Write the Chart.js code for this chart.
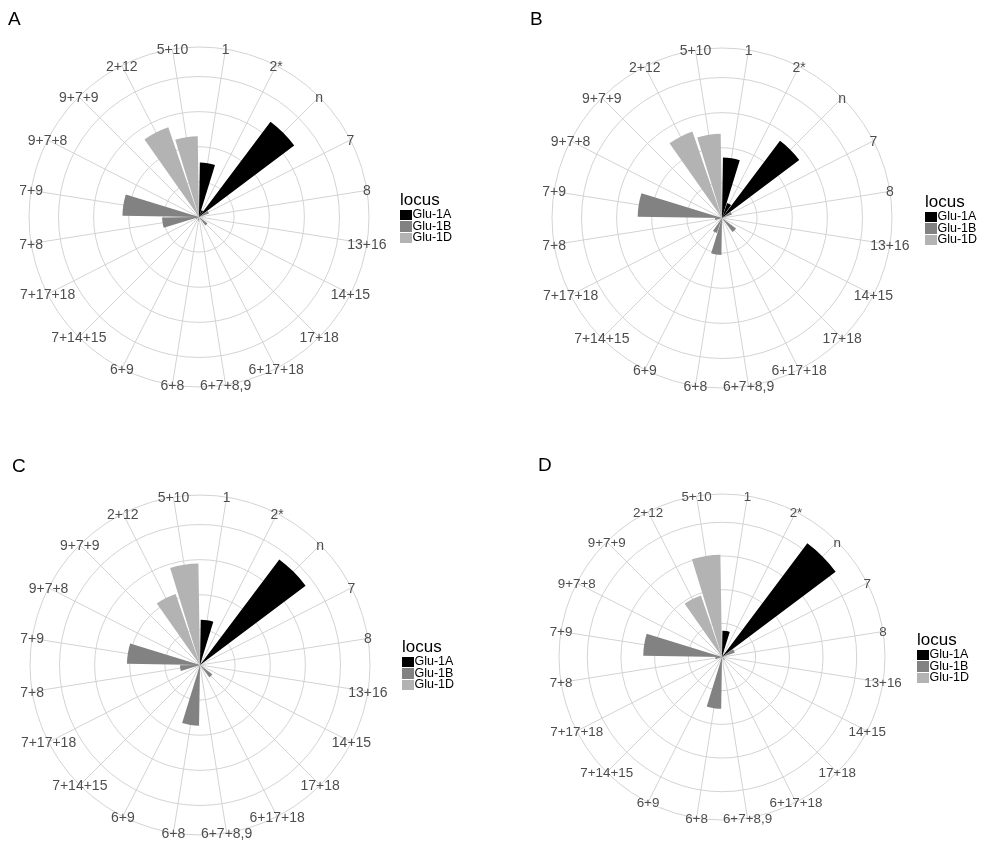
<!DOCTYPE html>
<html>
<head>
<meta charset="utf-8">
<title>Glu-1 alleles</title>
<script src="https://cdn.jsdelivr.net/npm/chart.js@4.4.0/dist/chart.umd.min.js"></script>
<style>
  body { margin: 0; background: #fff; font-family: "Liberation Sans", Arial, sans-serif; }
  #page { position: relative; width: 985px; height: 841px; overflow: hidden; }
  canvas { position: absolute; }
  .tag { position: absolute; font-size: 19px; line-height: 19px; color: #000; }
  .legend { position: absolute; color: #000; }
  .legend .title { font-size: 17px; line-height: 16px; margin-bottom: 1px; }
  .legend .row { display: flex; align-items: center; height: 11.5px; font-size: 12.5px; line-height: 11.5px; }
  .legend .key { width: 11.5px; height: 10.5px; margin-right: 1px; }
</style>
</head>
<body>
<div id="page">
  <canvas id="chart-a" width="490" height="420" style="left:0;top:0"></canvas>
  <canvas id="chart-b" width="495" height="420" style="left:490px;top:0"></canvas>
  <canvas id="chart-c" width="490" height="421" style="left:0;top:420px"></canvas>
  <canvas id="chart-d" width="495" height="421" style="left:490px;top:420px"></canvas>
  <div class="tag" style="left:8px;top:9px">A</div>
  <div class="tag" style="left:530px;top:9px">B</div>
  <div class="tag" style="left:12px;top:456px">C</div>
  <div class="tag" style="left:538px;top:455px">D</div>
  <div class="legend" id="legend-a" style="left:400px;top:192px"></div>
  <div class="legend" id="legend-b" style="left:925px;top:194px"></div>
  <div class="legend" id="legend-c" style="left:402px;top:639px"></div>
  <div class="legend" id="legend-d" style="left:917px;top:632px"></div>
</div>
<script>
// alleles clockwise from the top, and the locus each one belongs to
const alleles = ['1', '2*', 'n', '7', '8', '13+16', '14+15', '17+18', '6+17+18', '6+7+8,9',
  '6+8', '6+9', '7+14+15', '7+17+18', '7+8', '7+9', '9+7+8', '9+7+9', '2+12', '5+10'];
const alleleLocus = ['Glu-1A', 'Glu-1A', 'Glu-1A', 'Glu-1B', 'Glu-1B', 'Glu-1B', 'Glu-1B', 'Glu-1B', 'Glu-1B', 'Glu-1B',
  'Glu-1B', 'Glu-1B', 'Glu-1B', 'Glu-1B', 'Glu-1B', 'Glu-1B', 'Glu-1B', 'Glu-1B', 'Glu-1D', 'Glu-1D'];
const loci = ['Glu-1A', 'Glu-1B', 'Glu-1D'];
const locusColors = ['#000000', '#828282', '#B3B3B3'];

// bar lengths per panel (same order as alleles)
const valuesA = [15.5, 2, 33.9, 3, 0, 0, 0, 3, 0, 0, 1, 0, 0, 1, 10.5, 21.8, 0, 0, 27, 23];
const valuesB = [17.2, 4.5, 27.5, 3, 0, 0, 0, 5, 0, 0, 10.5, 4.5, 0, 0, 2, 24, 0, 0, 26, 24];
const valuesC = [12.9, 0, 37.6, 0, 0, 0, 0, 4.4, 0, 0, 17.3, 0, 0, 0, 5.7, 20.8, 0, 0, 21.4, 28.9];
const valuesD = [7.8, 0, 42.2, 4, 0, 0, 0, 1, 0, 0, 15.4, 0, 0, 0, 2, 23.4, 0, 0, 19.3, 30.4];

// radial grid
const ringTicks = [0, 10, 20, 30, 40];
const outerLimit = 48.4;

const slot = 360 / alleles.length;
const barAngle = slot * 0.9;
const gapAngle = slot - barAngle;
const gridColor = '#d3d3d3';

// axis text is centred on the outer ring, like ggplot's coord_polar
const ringLabels = {
    id: 'ringLabels',
    afterDraw(chart) {
        const scale = chart.scales.r;
        const opts = scale.options.pointLabels;
        const ctx = chart.ctx;
        ctx.save();
        ctx.font = opts.font.size + 'px ' + opts.font.family;
        ctx.fillStyle = opts.color;
        ctx.textAlign = 'center';
        ctx.textBaseline = 'alphabetic';
        chart.data.labels.forEach((label, j) => {
            if (!label) return;
            const p = scale.getPointPosition(j, scale.drawingArea);
            ctx.fillText(label, p.x, p.y + opts.font.size * 0.36);
        });
        ctx.restore();
    }
};

function buildLegend(id) {
    let html = '<div class="title">locus</div>';
    loci.forEach((l, i) => {
        html += '<div class="row"><span class="key" style="background:' + locusColors[i] + '"></span>' + l + '</div>';
    });
    document.getElementById(id).innerHTML = html;
}

function drawPanel(canvasId, values, pad, fontSize) {
    // one blank label between alleles so the spokes sit in the middle of each bar
    let labels = [];
    let data = [0];
    let colors = ['rgba(0,0,0,0)'];
    alleles.forEach((a, i) => {
        labels.push('', a);
        data.push(values[i]);
        colors.push(locusColors[loci.indexOf(alleleLocus[i])]);
        data.push(0);
        colors.push('rgba(0,0,0,0)');
    });
    const last = data.length - 1;

    new Chart(document.getElementById(canvasId), {
        type: 'polarArea',
        data: {
            labels: labels,
            datasets: [{
                data: data,
                backgroundColor: colors,
                borderWidth: 0,
                angle: ctx => {
                    const i = ctx.dataIndex;
                    if (i === 0 || i === last) return gapAngle / 2;
                    return i % 2 ? barAngle : gapAngle;
                }
            }]
        },
        options: {
            responsive: false,
            animation: false,
            layout: { padding: pad },
            plugins: {
                legend: { display: false },
                tooltip: { enabled: false }
            },
            scales: {
                r: {
                    min: 0,
                    max: outerLimit,
                    startAngle: 0,
                    afterBuildTicks: axis => {
                        axis.ticks = ringTicks.concat([outerLimit]).map(v => ({ value: v }));
                    },
                    ticks: { display: false },
                    grid: { circular: true, color: gridColor, lineWidth: 1 },
                    angleLines: {
                        display: true,
                        lineWidth: 1,
                        color: ctx => (ctx.label ? gridColor : null)
                    },
                    pointLabels: {
                        display: false,
                        color: '#4D4D4D',
                        font: { size: fontSize, family: '"Liberation Sans", Arial, sans-serif' }
                    }
                }
            }
        },
        plugins: [ringLabels]
    });
}

drawPanel('chart-a', valuesA, { left: 29, top: 47, right: 121, bottom: 33 }, 14);
drawPanel('chart-b', valuesB, { left: 62, top: 48, right: 93, bottom: 32 }, 14);
drawPanel('chart-c', valuesC, { left: 30, top: 75, right: 120, bottom: 6 }, 14);
drawPanel('chart-d', valuesD, { left: 69, top: 74, right: 100, bottom: 21 }, 13.4);

['legend-a', 'legend-b', 'legend-c', 'legend-d'].forEach(buildLegend);
</script>
</body>
</html>
